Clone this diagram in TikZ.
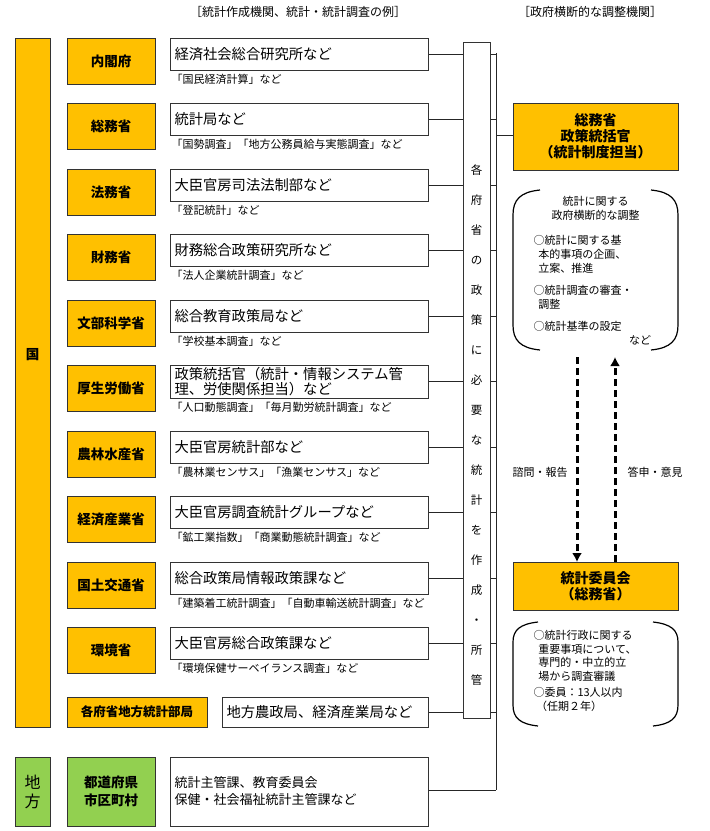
\documentclass[tikz,border=0pt]{standalone}
\usepackage{fontspec}
\usetikzlibrary{arrows.meta}
\setmainfont{Noto Sans CJK JP}
\begin{document}
\begin{tikzpicture}[x=1pt,y=-1pt,
 org/.style={draw=black!80,line width=1pt,fill=ora},
 wb/.style={draw=black!80,line width=1pt,fill=white},
 gb/.style={draw=black!80,line width=1pt,fill=grn},
 ln/.style={line width=1pt,black!85},
 main/.style={font=\fontsize{14.3}{16}\selectfont,anchor=west,align=left},
 sub/.style={font=\fontsize{11}{13}\selectfont,anchor=west},
 min/.style={font=\bfseries\fontsize{13.5}{16}\selectfont},
 rt/.style={font=\fontsize{11}{14}\selectfont},
 br/.style={line width=1.2pt},
 dar/.style={line width=3pt,dash pattern=on 7pt off 4pt,-{Latex[length=9pt,width=10pt]}}]
\definecolor{ora}{HTML}{FFC000}
\definecolor{grn}{HTML}{92D050}
\useasboundingbox (0,0) rectangle (710,831);
\node at (298,12) {\fontsize{12}{14}\selectfont ［統計作成機関、統計・統計調査の例］};
\node at (590,12) {\fontsize{12}{14}\selectfont ［政府横断的な調整機関］};
\coordinate (vt) at (496,53);
\coordinate (vb) at (496,790);
\draw[ln] (vt) -- (vb);
\draw[org] (15,38) rectangle (50,727);
\node[min] (kuni) at (32.5,355) {国};
\foreach \i/\m/\t/\s in {
0/内閣府/経済社会総合研究所など/「国民経済計算」など,
1/総務省/統計局など/「国勢調査」「地方公務員給与実態調査」など,
2/法務省/大臣官房司法法制部など/「登記統計」など,
3/財務省/財務総合政策研究所など/「法人企業統計調査」など,
4/文部科学省/総合教育政策局など/「学校基本調査」など,
6/農林水産省/大臣官房統計部など/「農林業センサス」「漁業センサス」など,
7/経済産業省/大臣官房調査統計グループなど/「鉱工業指数」「商業動態統計調査」など,
8/国土交通省/総合政策局情報政策課など/「建築着工統計調査」「自動車輸送統計調査」など,
9/環境省/大臣官房総合政策課など/「環境保健サーベイランス調査」など}{
 \pgfmathsetmacro{\yy}{38+65.5*\i}
 \draw[ln] (428,\yy+16) -- (496,\yy+16);
 \draw[org] (67,\yy) rectangle (155,\yy+46);
 \node[min] (m\i) at (111,\yy+23) {\m};
 \draw[wb] (170,\yy) rectangle (428,\yy+32);
 \node[main] (w\i) at (171,\yy+16) {\t};
 \node[sub] (s\i) at (168,\yy+41) {\s};
}
\draw[ln] (428,381) -- (496,381);
\draw[org] (67,365.5) rectangle (155,411.5);
\node[min] (m5) at (111,388.5) {厚生労働省};
\draw[wb] (170,365.5) rectangle (428,398);
\node[main,font=\fontsize{14.3}{15}\selectfont] (w5) at (171,382) {政策統括官（統計・情報システム管\\理、労使関係担当）など};
\node[sub] (s5) at (168,407) {「人口動態調査」「毎月勤労統計調査」など};
\draw[ln] (428,712) -- (496,712);
\draw[org] (67,697) rectangle (207,727);
\node[min,font=\bfseries\fontsize{12.5}{15}\selectfont] (mL) at (137,712) {各府省地方統計部局};
\draw[wb] (222,697) rectangle (428,727);
\node[main] (wL) at (223,712) {地方農政局、経済産業局など};
\draw[wb] (463,42) rectangle (490,718);
\node[font=\fontsize{11.5}{13}\selectfont,align=center,inner sep=0pt] (tall) at (476.5,425)
 {各\\[17pt]府\\[17pt]省\\[17pt]の\\[17pt]政\\[17pt]策\\[17pt]に\\[17pt]必\\[17pt]要\\[17pt]な\\[17pt]統\\[17pt]計\\[17pt]を\\[17pt]作\\[17pt]成\\[17pt]・\\[17pt]所\\[17pt]管};
\draw[ln] (428,790) -- (vb);
\draw[gb] (15,757) rectangle (50,826);
\node[font=\fontsize{16}{19}\selectfont,align=center] (chiho) at (32.5,791.5) {地\\方};
\draw[gb] (67,757) rectangle (155,826);
\node[min,align=center,font=\bfseries\fontsize{13.5}{18}\selectfont] (todo) at (111,791.5) {都道府県\\市区町村};
\draw[wb] (170,757) rectangle (428,826);
\node[main,font=\fontsize{13}{17}\selectfont] (wT) at (171,791.5) {統計主管課、教育委員会\\保健・社会福祉統計主管課など};
\draw[ln] (496,135) -- (513,135);
\draw[org] (513,103) rectangle (678,170);
\node[font=\bfseries\fontsize{14}{16}\selectfont,align=center] (seisaku) at (595.5,136.5) {総務省\\政策統括官\\（統計制度担当）};
\draw[br] (540,190) .. controls (520,192) and (513,200) .. (513,215) -- (513,325) .. controls (513,340) and (520,348) .. (540,350);
\draw[br] (651,190) .. controls (671,192) and (678,200) .. (678,215) -- (678,325) .. controls (678,340) and (671,348) .. (651,350);
\node[rt,align=center] (t1) at (595.5,208) {統計に関する\\政府横断的な調整};
\node[rt,align=left,anchor=north west] (t2) at (530,232) {○統計に関する基\\\ \ 本的事項の企画、\\\ \ 立案、推進};
\node[rt,align=left,anchor=north west] (t3) at (530,282) {○統計調査の審査・\\\ \ 調整};
\node[rt,anchor=north west] (t4) at (530,318) {○統計基準の設定};
\node[rt] (t5) at (640,340) {など};
\draw[org] (513,562) rectangle (678,610);
\node[font=\bfseries\fontsize{14}{16}\selectfont,align=center] (iinkai) at (595.5,586) {統計委員会\\（総務省）};
\coordinate (a1) at (577,357);
\coordinate (a2) at (615,357);
\draw[dar] (a1) -- (a1 |- 0,562);
\draw[dar] (a2 |- 0,562) -- (a2);
\node[rt] (l1) at (540,472) {諮問・報告};
\node[rt] (l2) at (655,472) {答申・意見};
\draw[br] (538,622) .. controls (520,624) and (513,630) .. (513,642) -- (513,705) .. controls (513,718) and (520,724) .. (538,726);
\draw[br] (653,622) .. controls (671,624) and (678,630) .. (678,642) -- (678,705) .. controls (678,718) and (671,724) .. (653,726);
\node[rt,align=left,anchor=north west,font=\fontsize{11}{13.5}\selectfont] (u1) at (530,627) {○統計行政に関する\\\ \ 重要事項について、\\\ \ 専門的・中立的立\\\ \ 場から調査審議};
\node[rt,align=left,anchor=north west,font=\fontsize{11}{13.5}\selectfont] (u2) at (530,684) {○委員：13人以内\\\ （任期２年）};
\end{tikzpicture}
\end{document}
